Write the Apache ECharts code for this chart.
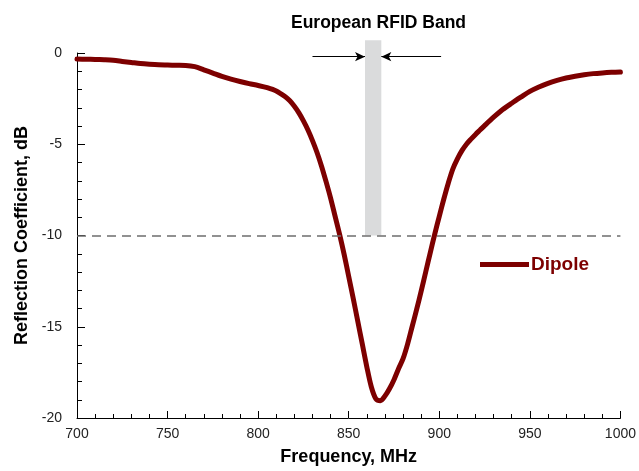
<!DOCTYPE html>
<html>
<head>
<meta charset="utf-8">
<title>Dipole reflection coefficient</title>
<script src="https://cdn.jsdelivr.net/npm/echarts@6/dist/echarts.min.js"></script>
<style>
  html, body { margin: 0; padding: 0; background: #ffffff; }
  #chart { width: 639px; height: 471px; }
</style>
</head>
<body>
<div id="chart"></div>
<script>
// Measured dipole response: frequency (MHz) and reflection coefficient (dB).
// Finer 2.5 MHz steps through the resonance dip.
const frequency = [700, 705, 710, 715, 720, 725, 730, 735, 740, 745, 750, 755, 760, 765, 770,
  775, 780, 785, 790, 795, 800, 805, 810,
  815, 817.5, 820, 822.5, 825, 827.5, 830, 832.5, 835, 837.5, 840, 842.5, 845, 847.5, 850,
  852.5, 855, 857.5, 860, 862.5, 865, 867.5, 870, 872.5, 875, 877.5, 880, 882.5, 885,
  887.5, 890, 892.5, 895, 897.5, 900, 902.5, 905, 907.5, 910, 912.5, 915, 917.5, 920, 922.5, 925,
  930, 935, 940, 945, 950, 955, 960, 965, 970, 975, 980, 985, 990, 995, 1000];
const reflection = [-0.33, -0.34, -0.35, -0.37, -0.40, -0.46, -0.52, -0.58, -0.62, -0.65, -0.66, -0.67, -0.68, -0.75, -0.92,
  -1.10, -1.28, -1.43, -1.56, -1.68, -1.78, -1.90, -2.08,
  -2.40, -2.62, -2.92, -3.28, -3.72, -4.22, -4.80, -5.45, -6.20, -7.05, -7.95, -8.95, -9.95, -11.05, -12.25,
  -13.45, -14.70, -15.95, -17.20, -18.30, -18.95, -19.05, -18.80, -18.40, -17.90, -17.30, -16.75, -15.95, -15.00,
  -14.05, -13.05, -12.00, -10.95, -9.92, -8.95, -8.00, -7.12, -6.35, -5.80, -5.35, -5.00, -4.72, -4.46, -4.22, -3.98,
  -3.52, -3.10, -2.75, -2.42, -2.10, -1.86, -1.66, -1.50, -1.37, -1.27, -1.19, -1.13, -1.09, -1.06, -1.04];

// European RFID band: [start MHz, end MHz, top dB, bottom dB]
const rfidBand = [[859, 868, 0.7, -10]];
// Arrow shafts pointing at the band edges: [from MHz, to MHz], drawn at arrowLevel dB
const arrowSpans = [[830, 859], [901, 868]];
const arrowLevel = -0.2;
// Matching threshold
const threshold = -10;

// Axis ranges and tick steps
const xRange = [700, 1000], xStep = 50;
const yRange = [-20, 0], yStep = 5;

const seriesName = 'Dipole';
const bandTitle = 'European RFID Band';
const xTitle = 'Frequency, MHz';
const yTitle = 'Reflection Coefficient, dB';

const FONT = "'Liberation Sans', Arial, sans-serif";
const CURVE = '#7d0000';

const chart = echarts.init(document.getElementById('chart'), null, { renderer: 'canvas' });

chart.setOption({
  animation: false,
  backgroundColor: '#ffffff',
  grid: { left: 77, right: 15, top: 53, height: 366, containLabel: false },
  graphic: [{
    type: 'text',
    left: 291,
    top: 14,
    style: {
      text: bandTitle,
      fontFamily: FONT,
      fontWeight: 'bold',
      fontSize: 17.5,
      fill: '#000000'
    }
  }],
  legend: {
    data: [{ name: seriesName, icon: 'rect' }],
    left: 480,
    top: 255,
    padding: 0,
    itemWidth: 49,
    itemHeight: 5,
    itemGap: 0,
    textStyle: { fontFamily: FONT, fontWeight: 'bold', fontSize: 19, color: CURVE, padding: [0, 0, 0, -3] },
    selectedMode: false
  },
  xAxis: {
    type: 'value',
    min: xRange[0], max: xRange[1], interval: xStep,
    name: xTitle,
    nameLocation: 'middle',
    nameGap: 30,
    nameTextStyle: { fontFamily: FONT, fontWeight: 'bold', fontSize: 18, color: '#000000' },
    axisLine: { show: true, onZero: false, lineStyle: { color: '#000000', width: 1 } },
    axisTick: { show: true, inside: true, length: 7, lineStyle: { color: '#000000' } },
    minorTick: { show: true, splitNumber: 5, length: 4, lineStyle: { color: '#000000' } },
    axisLabel: {
      fontFamily: FONT, fontSize: 14, color: '#222222', margin: 9,
      formatter: function (v) { return String(v); }
    },
    splitLine: { show: false }
  },
  yAxis: {
    type: 'value',
    min: yRange[0], max: yRange[1], interval: yStep,
    name: yTitle,
    nameLocation: 'middle',
    nameGap: 42,
    nameTextStyle: { fontFamily: FONT, fontWeight: 'bold', fontSize: 18, color: '#000000' },
    axisLine: { show: true, onZero: false, lineStyle: { color: '#000000', width: 1 } },
    axisTick: { show: true, inside: true, length: 8, lineStyle: { color: '#000000' } },
    minorTick: { show: true, splitNumber: 5, length: 5, lineStyle: { color: '#000000' } },
    axisLabel: {
      fontFamily: FONT, fontSize: 14, color: '#222222', margin: 15,
      formatter: function (v) { return String(v); }
    },
    splitLine: { show: false }
  },
  series: [
    {
      // Shaded band with the arrows marking it and the -10 dB threshold
      type: 'custom',
      name: 'band',
      silent: true,
      z: 1,
      clip: false,
      data: rfidBand,
      renderItem: function (params, api) {
        const p1 = api.coord([api.value(0), api.value(2)]);
        const p2 = api.coord([api.value(1), api.value(3)]);
        return {
          type: 'rect',
          shape: { x: p1[0], y: p1[1], width: p2[0] - p1[0], height: p2[1] - p1[1] },
          style: { fill: '#dadbdc' }
        };
      },
      markLine: {
        silent: true,
        animation: false,
        symbol: ['none', 'none'],
        label: { show: false },
        emphasis: { disabled: true },
        data: [
          {
            yAxis: threshold,
            lineStyle: { color: '#6e6e6e', type: [9, 6], width: 1.5 }
          }
        ].concat(arrowSpans.map(function (s) {
          return [
            { coord: [s[0], arrowLevel], symbol: 'none', lineStyle: { color: '#000000', type: 'solid', width: 1 } },
            { coord: [s[1], arrowLevel], symbol: 'arrow', symbolSize: [7, 10] }
          ];
        }))
      }
    },
    {
      type: 'line',
      name: seriesName,
      z: 3,
      data: frequency.map(function (f, i) { return [f, reflection[i]]; }),
      showSymbol: false,
      smooth: 0.3,
      lineStyle: { color: CURVE, width: 5, cap: 'round', join: 'round' },
      itemStyle: { color: CURVE },
      emphasis: { disabled: true }
    }
  ]
});
</script>
</body>
</html>
